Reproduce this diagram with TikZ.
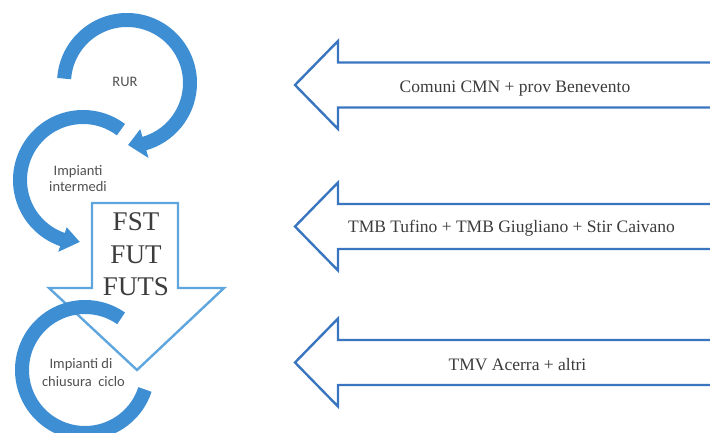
\documentclass[tikz,border=0pt]{standalone}
\usepackage{fontspec}
\setmainfont{Liberation Serif}
\newfontfamily\carlito{Carlito}
\usetikzlibrary{calc}
\definecolor{arcblue}{RGB}{62,142,212}
\definecolor{bigblue}{RGB}{95,165,222}
\definecolor{sideblue}{RGB}{58,118,192}
\definecolor{txtgray}{RGB}{60,60,60}
\definecolor{smallgray}{RGB}{80,80,80}
\begin{document}
\begin{tikzpicture}[x=1pt,y=-1pt,
  band/.style={line width=14pt, draw=arcblue},
  headfill/.style={fill=arcblue},
  sidearrow/.style={draw=sideblue, line width=2.4pt, line join=miter},
  bigarrow/.style={draw=bigblue, line width=2.4pt, fill=white, line join=miter},
  smalltxt/.style={font=\carlito\fontsize{14.5}{17}\selectfont, text=smallgray, inner sep=0pt, anchor=base},
  sidetxt/.style={font=\fontsize{17.5}{21}\selectfont, text=txtgray, inner sep=0pt, anchor=base},
  bigtxt/.style={font=\fontsize{27}{32}\selectfont, text=txtgray, inner sep=0pt, anchor=base}]
\useasboundingbox (0,0) rectangle (710,433);
\clip (0,0) rectangle (710,433);

% side arrows
\draw[sidearrow] (712,62.5) -- (338,62.5) -- (338,41) -- (295,85) -- (338,129) -- (338,107.5) -- (712,107.5);
\draw[sidearrow] (712,204) -- (338,204) -- (338,182.5) -- (295,226.5) -- (338,270.5) -- (338,249) -- (712,249);
\draw[sidearrow] (712,340) -- (338,340) -- (338,318.5) -- (295,362.5) -- (338,406.5) -- (338,385) -- (712,385);
\node[sidetxt] (t1) at (515,93) {Comuni CMN + prov Benevento};
\node[sidetxt] (t2) at (511.5,233) {TMB Tufino + TMB Giugliano + Stir Caivano};
\node[sidetxt] (t3) at (517.5,370) {TMV Acerra + altri};

% big down arrow
\draw[bigarrow] (92,203) -- (178,203) -- (178,288) -- (224,288) -- (137,370) -- (49,288) -- (92,288) -- cycle;
\node[bigtxt] (fst) at (136,230) {FST};
\node[bigtxt] (fut) at (136,263) {FUT};
\node[bigtxt] (futs) at (136,295) {FUTS};

% circular arrows
\coordinate (c1) at (127,83);
\coordinate (c2) at (83,180);
\coordinate (c3) at (85,370);
\draw[band] ($(c1)+(184:63)$) arc[start angle=184, end angle=435, radius=63];
\fill[headfill] ($(c1)+(74:48)$) -- ($(c1)+(74:78)$) -- ($(c1)+(89:62)$) -- cycle;
\draw[band] ($(c2)+(307:63)$) arc[start angle=307, end angle=108, radius=63];
\fill[headfill] ($(c2)+(109:50)$) -- ($(c2)+(109:76)$) -- ($(c2)+(93:62)$) -- cycle;
\draw[band] ($(c3)+(305:63)$) arc[start angle=305, end angle=18, radius=63];

\node[smalltxt] (rur) at (125,87) {RUR};
\node[smalltxt] (im1) at (78,176) {Impianti};
\node[smalltxt] (im2) at (78,192) {intermedi};
\node[smalltxt] (ch1) at (81,368) {Impianti di};
\node[smalltxt] (ch2) at (83.5,386) {chiusura\ \ ciclo};
\end{tikzpicture}
\end{document}
